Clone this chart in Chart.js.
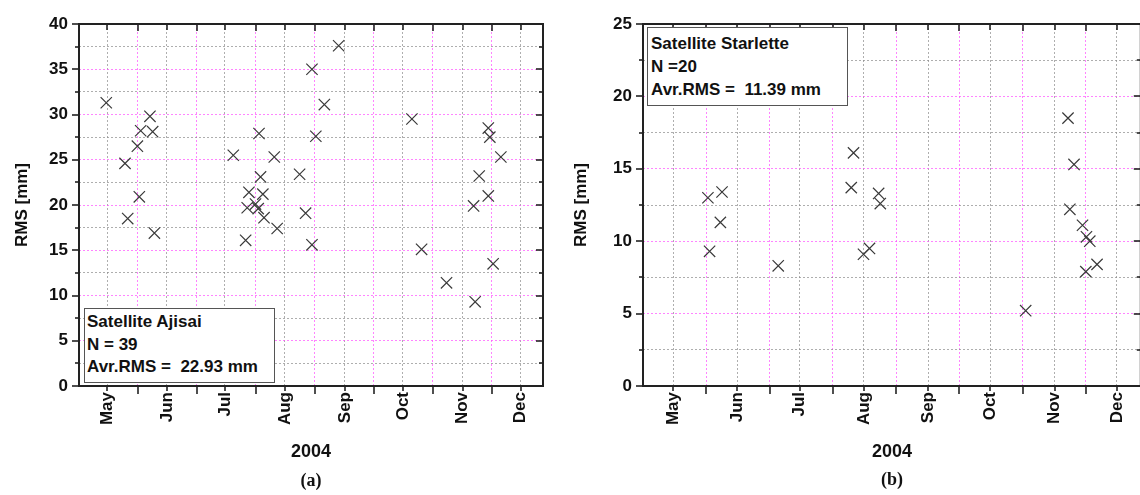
<!DOCTYPE html>
<html>
<head>
<meta charset="utf-8">
<script src="https://cdn.jsdelivr.net/npm/chart.js@4/dist/chart.umd.min.js"></script>
<style>
  html, body { margin: 0; padding: 0; background: #fff; }
  body { width: 1140px; height: 495px; overflow: hidden; position: relative; }
  .wrap { position: absolute; top: 0; height: 495px; }
  .info {
    position: absolute; box-sizing: border-box; background: #fff;
    border: 1.5px solid #555; font: bold 17px "Liberation Sans", Arial, sans-serif;
    color: #111; white-space: pre; line-height: 22.5px;
  }
  .cap {
    position: absolute; width: 60px; margin-left: -30px; text-align: center;
    font: bold 18px "Liberation Serif", "Times New Roman", serif; color: #111;
  }
</style>
</head>
<body>
<div class="wrap" style="left:0;width:570px"><canvas id="ajisaiChart"></canvas></div>
<div class="wrap" style="left:570px;width:580px"><canvas id="starletteChart"></canvas></div>

<div class="info" style="left:84px;top:308px;width:191px;height:75px;padding:2px 0 0 2px">Satellite Ajisai
N = 39
Avr.RMS =  22.93 mm</div>
<div class="info" style="left:647px;top:27px;width:201px;height:79px;padding:4px 0 0 3px;line-height:23px">Satellite Starlette
N =20
Avr.RMS =  11.39 mm</div>

<div class="cap" style="left:311px;top:470px">(a)</div>
<div class="cap" style="left:892px;top:469px">(b)</div>

<script>
// x values are day of year 2004
const monthLabels = ["May", "Jun", "Jul", "Aug", "Sep", "Oct", "Nov", "Dec"];
const monthDays = [122, 153, 183, 214, 245, 275, 306, 336];
const majorDays = [138, 168.5, 199, 229.5, 260, 290.5, 321];
const xMin = 107.5;
const xMax = 347.5;

const ajisaiYTicks = [0, 5, 10, 15, 20, 25, 30, 35, 40];
const starletteYTicks = [0, 5, 10, 15, 20, 25];

const ajisaiDay = [121.6, 131.3, 132.7, 137.7, 139.4, 138.7, 144.2, 145.6, 146.5,
  187.3, 200.6, 208.5, 201.4, 195.4, 202.6, 194.5, 198.8, 200.2, 203.2, 210.0, 193.7,
  221.6, 224.7, 228.0, 228.0, 230.0, 234.4, 241.8,
  279.7, 284.7,
  297.6, 312.4, 311.6, 314.5, 319.2, 319.2, 320.0, 321.7, 325.7];
const ajisaiRms = [31.3, 24.6, 18.5, 26.5, 28.2, 20.9, 29.8, 28.1, 16.9,
  25.5, 27.9, 25.3, 23.1, 21.4, 21.2, 19.7, 20.1, 19.6, 18.6, 17.4, 16.1,
  23.4, 19.1, 35.0, 15.6, 27.6, 31.1, 37.6,
  29.5, 15.1,
  11.4, 9.3, 19.9, 23.2, 21.0, 28.5, 27.5, 13.5, 25.3];

const starletteDay = [138.8, 145.6, 144.8, 139.6, 172.7,
  209.0, 207.9, 221.1, 221.9, 216.7, 213.8,
  292.0,
  312.4, 315.3, 313.3, 319.4, 321.3, 322.9, 321.0, 326.4];
const starletteRms = [13.0, 13.4, 11.3, 9.3, 8.3,
  16.1, 13.7, 13.3, 12.6, 9.5, 9.1,
  5.2,
  18.5, 15.3, 12.2, 11.1, 10.3, 10.0, 7.9, 8.4];

const FONT = "'Liberation Sans', Arial, sans-serif";
const MAGENTA = "rgba(255, 80, 255, 0.7)";
const GRAY = "rgba(140, 140, 140, 0.7)";

// box + tick marks (left/bottom outward, top/right inward)
const framePlugin = {
  id: "frame",
  afterDraw(chart) {
    const { ctx, chartArea: a, scales } = chart;
    const x = scales.x, y = scales.y;
    const line = (x1, y1, x2, y2) => {
      ctx.beginPath(); ctx.moveTo(x1, y1); ctx.lineTo(x2, y2); ctx.stroke();
    };
    ctx.save();
    ctx.strokeStyle = "#222";
    ctx.lineWidth = 1.6;
    majorDays.forEach(d => {
      const px = Math.round(x.getPixelForValue(d));
      line(px, a.bottom, px, a.bottom + 8);
      line(px, a.top, px, a.top + 7);
    });
    monthDays.forEach(d => {
      const px = Math.round(x.getPixelForValue(d));
      line(px, a.bottom, px, a.bottom + 5);
      line(px, a.top, px, a.top + 6);
    });
    y.ticks.forEach(t => {
      const py = Math.round(y.getPixelForValue(t.value));
      const len = t.major ? 7 : 4;
      line(a.left - len, py, a.left, py);
      line(a.right - len, py, a.right, py);
    });
    ctx.lineWidth = 2;
    ctx.strokeRect(a.left, a.top, a.right - a.left, a.bottom - a.top);
    ctx.restore();
  }
};

function makeChart(id, days, rms, yTicks, yAxisWidth, yTitlePad, padRight) {
  const step = yTicks[1] - yTicks[0];
  return new Chart(document.getElementById(id), {
    type: "scatter",
    data: {
      datasets: [{
        data: days.map((d, i) => ({ x: d, y: rms[i] })),
        pointStyle: "crossRot",
        pointRadius: 8,
        pointHoverRadius: 8,
        borderColor: "#3a3a3a",
        backgroundColor: "transparent",
        borderWidth: 1.2,
      }],
    },
    options: {
      responsive: true,
      maintainAspectRatio: false,
      animation: false,
      layout: { padding: { top: 24, right: padRight, bottom: 0, left: 0 } },
      plugins: { legend: { display: false }, tooltip: { enabled: false } },
      scales: {
        x: {
          type: "linear",
          min: xMin,
          max: xMax,
          afterBuildTicks: s => {
            const t = monthDays.map(v => ({ value: v, month: true }))
              .concat(majorDays.map(v => ({ value: v })));
            s.ticks = t.sort((p, q) => p.value - q.value);
          },
          afterFit: s => { s.height = 109; },
          ticks: {
            autoSkip: false,
            minRotation: 90,
            maxRotation: 90,
            padding: 6,
            color: "#111",
            font: { family: FONT, size: 17, weight: "bold" },
            callback: v => {
              const i = monthDays.indexOf(v);
              return i >= 0 ? monthLabels[i] : "";
            },
          },
          grid: {
            drawTicks: false,
            lineWidth: 1,
            color: c => (c.tick && c.tick.month ? GRAY : MAGENTA),
          },
          border: { display: false, dash: [2, 2] },
          title: {
            display: true,
            text: "2004",
            color: "#111",
            font: { family: FONT, size: 18, weight: "bold", lineHeight: 1.2 },
            padding: { top: 0, bottom: 32 },
          },
        },
        y: {
          min: yTicks[0],
          max: yTicks[yTicks.length - 1],
          afterBuildTicks: s => {
            const t = [];
            yTicks.forEach((v, i) => {
              t.push({ value: v, major: true });
              if (i < yTicks.length - 1) t.push({ value: v + step / 2 });
            });
            s.ticks = t;
          },
          afterFit: s => { s.width = yAxisWidth; },
          ticks: {
            autoSkip: false,
            padding: 11,
            color: "#111",
            font: { family: FONT, size: 17, weight: "bold" },
            callback: v => (yTicks.includes(v) ? String(v) : ""),
          },
          grid: {
            drawTicks: false,
            lineWidth: 1,
            color: c => (c.tick && c.tick.major ? MAGENTA : GRAY),
          },
          border: { display: false, dash: [2, 2] },
          title: {
            display: true,
            text: "RMS [mm]",
            color: "#111",
            font: { family: FONT, size: 17, weight: "bold", lineHeight: 1.2 },
            padding: { top: yTitlePad, bottom: 0 },
          },
        },
      },
    },
    plugins: [framePlugin],
  });
}

makeChart("ajisaiChart", ajisaiDay, ajisaiRms, ajisaiYTicks, 79, 12, 27);
makeChart("starletteChart", starletteDay, starletteRms, starletteYTicks, 73, 1, 9);
</script>
</body>
</html>
